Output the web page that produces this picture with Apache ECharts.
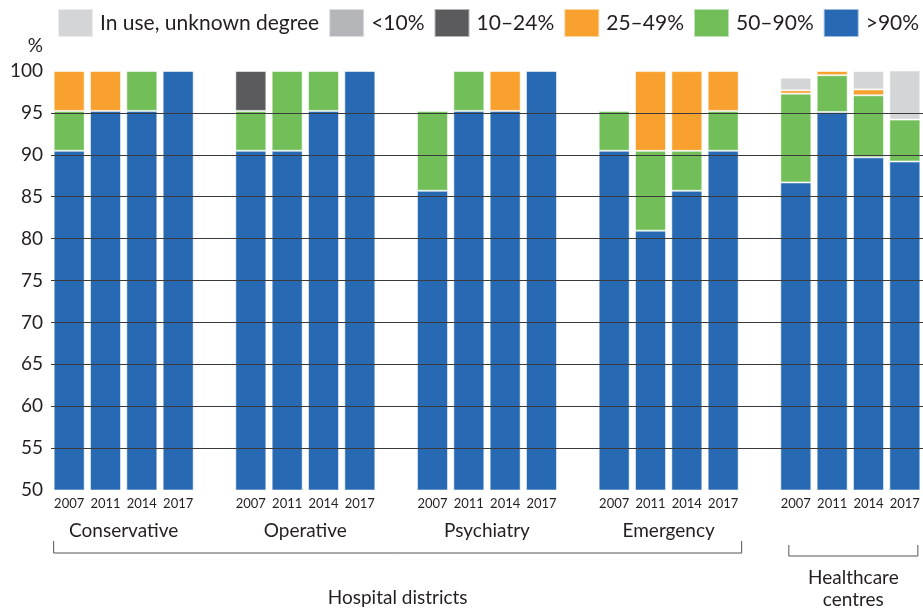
<!DOCTYPE html>
<html>
<head>
<meta charset="utf-8">
<script src="https://cdn.jsdelivr.net/npm/echarts@6/dist/echarts.min.js"></script>
<style>
html, body { margin: 0; padding: 0; background: #fff; }
#chart { width: 923px; height: 610px; }
</style>
</head>
<body>
<div id="chart"></div>
<script>
// four survey years per group, one empty slot between groups
var categories = ['2007','2011','2014','2017','',
                  '2007','2011','2014','2017','',
                  '2007','2011','2014','2017','',
                  '2007','2011','2014','2017','',
                  '2007','2011','2014','2017'];
var groupNames = ['Conservative', 'Operative', 'Psychiatry', 'Emergency'];
var hospitalLabel = 'Hospital districts';
var healthLabel = 'Healthcare\ncentres';
var gridTicks = [55, 60, 65, 70, 75, 80, 85, 90, 95];

// share of units, % (stacked from the bottom)
var over90   = [90.48, 95.24, 95.24, 100, null,  90.48, 90.48, 95.24, 100, null,  85.71, 95.24, 95.24, 100, null,  90.48, 80.95, 85.71, 90.48, null,  86.7, 95.1, 89.7, 89.2];
var p50to90  = [4.76, null, 4.76, null, null,  4.76, 9.52, 4.76, null, null,  9.52, 4.76, null, null, null,  4.76, 9.52, 4.76, 4.76, null,  10.6, 4.4, 7.4, 5.0];
var p25to49  = [4.76, 4.76, null, null, null,  null, null, null, null, null,  null, null, 4.76, null, null,  null, 9.52, 9.52, 4.76, null,  0.4, 0.5, 0.7, null];
var p10to24  = [null, null, null, null, null,  4.76, null, null, null, null,  null, null, null, null, null,  null, null, null, null, null,  null, null, null, null];
var under10  = [null, null, null, null, null,  null, null, null, null, null,  null, null, null, null, null,  null, null, null, null, null,  null, null, null, null];
var unknown  = [null, null, null, null, null,  null, null, null, null, null,  null, null, null, null, null,  null, null, null, null, null,  1.5, null, 2.2, 6.0];

var FONT = 'Lato, "Open Sans", sans-serif';
var TXT = '#231f20';
var BW = 31;

function barSeries(name, data, color) {
	return {
		name: name,
		type: 'bar',
		stack: 'all',
		data: data,
		barWidth: BW,
		z: 3,
		itemStyle: { color: color, borderColor: 'rgba(255,255,255,0.55)', borderWidth: 1 }
	};
}

var chart = echarts.init(document.getElementById('chart'));

var option = {
	animation: false,
	grid: { left: 51, top: 71, width: 874, height: 419 },
	legend: {
		left: 57, top: 8, width: 880, padding: 0,
		itemWidth: 35, itemHeight: 28, itemGap: 9,
		icon: 'rect',
		selectedMode: false,
		textStyle: { fontFamily: FONT, fontSize: 21, color: TXT, padding: [0, 0, 0, 2] },
		data: ['In use, unknown degree', '<10%', '10\u201324%', '25\u201349%', '50\u201390%', '>90%']
	},
	xAxis: {
		type: 'category',
		data: categories,
		axisLine: { show: false },
		axisTick: { show: false },
		axisLabel: { fontFamily: FONT, fontSize: 13, color: TXT, margin: 7, interval: 0 }
	},
	yAxis: {
		type: 'value',
		min: 50, max: 100, interval: 5,
		name: '%',
		nameLocation: 'end',
		nameGap: 16,
		nameTextStyle: { fontFamily: FONT, fontSize: 19, color: TXT, align: 'right', padding: [0, 8, 0, 0] },
		axisLine: { show: false },
		axisTick: { show: false },
		splitLine: { show: false },
		axisLabel: { fontFamily: FONT, fontSize: 19, color: TXT, margin: 8 }
	},
	series: [
		{
			type: 'line', data: [], z: 1, silent: true,
			markLine: {
				silent: true, symbol: 'none', label: { show: false },
				lineStyle: { color: '#3a3a3a', width: 1.2, type: 'solid' },
				data: gridTicks.map(function (v) { return { yAxis: v }; })
			}
		},
		barSeries('>90%', over90, '#2769b3'),
		barSeries('50\u201390%', p50to90, '#72bf5a'),
		barSeries('25\u201349%', p25to49, '#f9a12f'),
		barSeries('10\u201324%', p10to24, '#5b5b5e'),
		barSeries('<10%', under10, '#b5b6b9'),
		barSeries('In use, unknown degree', unknown, '#d4d5d7')
	]
};
chart.setOption(option);

// group labels and brackets under the axis, placed from the category scale
function px(i) { return chart.convertToPixel({ xAxisIndex: 0 }, i); }

var graphics = [];
for (var g = 0; g < groupNames.length; g++) {
	var cx = (px(g * 5 + 1) + px(g * 5 + 2)) / 2;
	graphics.push({
		type: 'text', x: cx, y: 531,
		style: { text: groupNames[g], fontFamily: FONT, fontSize: 19, fill: TXT, textAlign: 'center', textVerticalAlign: 'middle' }
	});
}
var h1 = px(0) - BW / 2, h2 = px(18) + BW / 2 + 3;
graphics.push({
	type: 'polyline',
	shape: { points: [[h1, 541], [h1, 553], [h2, 553], [h2, 541]] },
	style: { stroke: '#555', lineWidth: 1, fill: null }
});
graphics.push({
	type: 'text', x: (h1 + h2) / 2, y: 598,
	style: { text: hospitalLabel, fontFamily: FONT, fontSize: 19, fill: TXT, textAlign: 'center', textVerticalAlign: 'middle' }
});
var c1 = px(20) - 7, c2 = px(23) + 13;
graphics.push({
	type: 'polyline',
	shape: { points: [[c1, 545], [c1, 556], [c2, 556], [c2, 545]] },
	style: { stroke: '#555', lineWidth: 1, fill: null }
});
graphics.push({
	type: 'text', x: (c1 + c2) / 2, y: 589,
	style: { text: healthLabel, fontFamily: FONT, fontSize: 19, fill: TXT, lineHeight: 22, textAlign: 'center', textVerticalAlign: 'middle' }
});

chart.setOption({ graphic: graphics });
</script>
</body>
</html>
